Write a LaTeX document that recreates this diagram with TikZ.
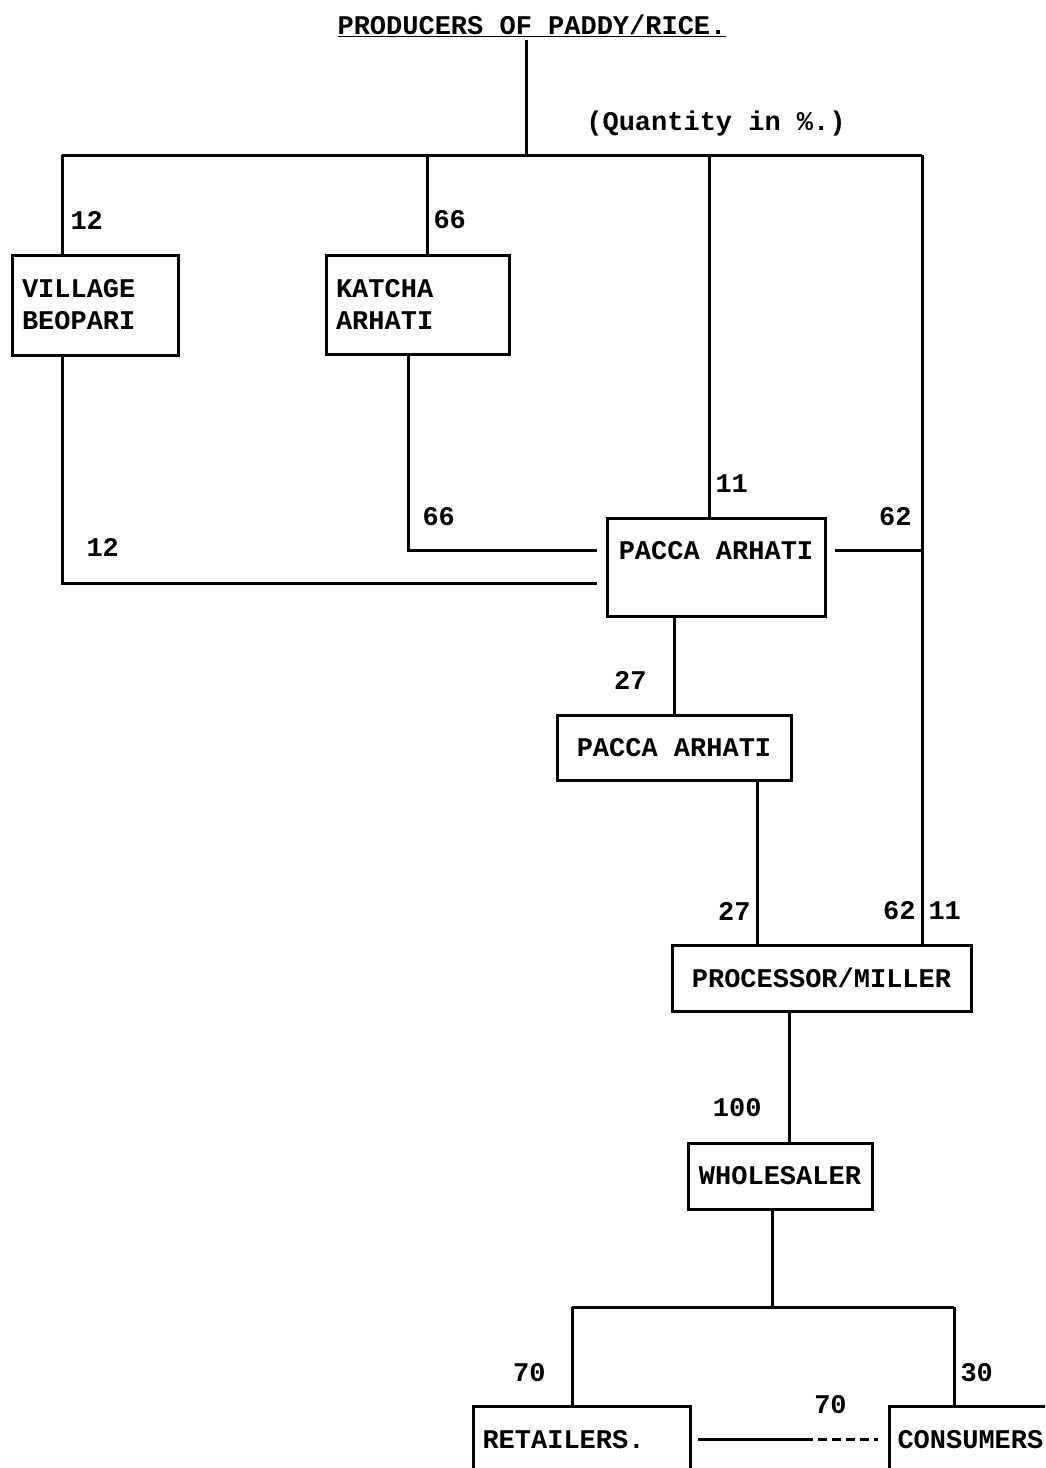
\documentclass[tikz,border=0pt]{standalone}
\usepackage{fontspec}
\setmonofont{Liberation Mono}
\usetikzlibrary{%
    calc,
    positioning
}
\newcommand{\chartfont}{\ttfamily\bfseries\fontsize{27}{32}\selectfont}
\tikzset{box/.style = {draw, line width=3pt, inner sep=0pt}}
\tikzset{flow/.style = {line width=3pt}}
\tikzset{qty/.style = {inner sep=5pt}}
\tikzset{leftbox/.style = {box, text width=#1, inner xsep=10pt, align=left}}

\begin{document}
\begin{tikzpicture}[x=1pt,y=-1pt,font=\chartfont]
    \useasboundingbox (0,0) rectangle (1045,1468);
    \clip (0,0) rectangle (1045,1468);

    \node (P) at (532,26) {\underline{PRODUCERS OF PADDY/RICE.}};
    \node (Q) at (716,124) {(Quantity in \%.)};
    \node (VB) [leftbox=146pt,minimum height=100pt] at (95,305) {VILLAGE\\BEOPARI};
    \node (KA) [leftbox=163pt,minimum height=99pt] at (417.5,304.5) {KATCHA\\ARHATI};
    \node (PA) [box,minimum width=218pt,text height=41pt,text depth=57pt] at (716,567) {PACCA ARHATI};
    \node (PB) [box,minimum width=234pt,minimum height=65pt] at (674,747.5) {PACCA ARHATI};
    \node (PM) [box,minimum width=299pt,minimum height=66pt] at (821.5,978) {PROCESSOR/MILLER};
    \node (W) [box,minimum width=184pt,minimum height=66pt] at (780,1176) {WHOLESALER};
    \node (R) [leftbox=199pt,inner xsep=9pt,minimum height=66pt,anchor=north west] at (472,1405) {RETAILERS.};
    \node (C) [leftbox=200pt,inner xsep=8pt,minimum height=66pt,anchor=north west] at (888,1405) {CONSUMERS};

    \coordinate (T) at (526,155);
    \coordinate (BL) at (62,155);
    \coordinate (K) at (427,155);
    \coordinate (D) at (709,155);
    \coordinate (BR) at (922,155);
    \coordinate (VE) at (597,583);
    \coordinate (KE) at (597,550);
    \coordinate (PAe) at ($(PA.east |- KE)+(8,0)$);
    \coordinate (PBx) at ($(PB.south)+(83,0)$);
    \coordinate (PMx) at ($(PM.south)+(-32.5,0)$);
    \coordinate (Wx) at ($(W.south)+(-8,0)$);
    \coordinate (RL) at (572,1307);
    \coordinate (CR) at (954,1307);
    \coordinate (RC) at ($(R.east)!0.57!(C.west)$);

    \draw[flow] (P.south -| T) -- (T);
    \draw[flow] (BL) -- (BR);
    \draw[flow] (BL) -- node[qty,right=2pt,pos=.66] {12} (BL |- VB.north);
    \draw[flow] (K) -- node[qty,right,pos=.66] {66} (K |- KA.north);
    \draw[flow] (D) -- node[qty,right,pos=.91] {11} (D |- PA.north);
    \draw[flow] (BR) -- node[qty,left,pos=.958] {62} node[qty,right,pos=.958] {11} (BR |- PM.north);
    \draw[flow] (BL |- VB.south) |- node[qty,pos=.5,above right=20pt and 18pt] {12} (VE);
    \draw[flow] ($(KA.south)+(-9.5,0)$) |- node[qty,pos=.5,above right=18pt and 8pt] {66} (KE);
    \draw[flow] (PAe) -- node[qty,pos=1,above left=18pt and 4pt] {62} (BR |- KE);
    \draw[flow] (PB.north |- PA.south) -- node[qty,left=21pt,pos=.66] {27} (PB.north);
    \draw[flow] (PBx) -- node[qty,left,pos=.8] {27} (PBx |- PM.north);
    \draw[flow] (PMx) -- node[qty,left=21pt,pos=.74] {100} (PMx |- W.north);
    \draw[flow] (Wx) -- (Wx |- RL);
    \draw[flow] (RL) -- (CR);
    \draw[flow] (RL) -- node[qty,left=20pt,pos=.67] {70} (RL |- R.north);
    \draw[flow] (CR) -- node[qty,right,pos=.67] {30} (CR |- C.north);
    \draw[flow] ([xshift=6pt]R.east) -- (RC);
    \draw[flow,dash pattern=on 9pt off 5pt] (RC) -- node[qty,above=19pt,pos=.36] {70} ([xshift=-10pt]C.west);
\end{tikzpicture}
\end{document}
